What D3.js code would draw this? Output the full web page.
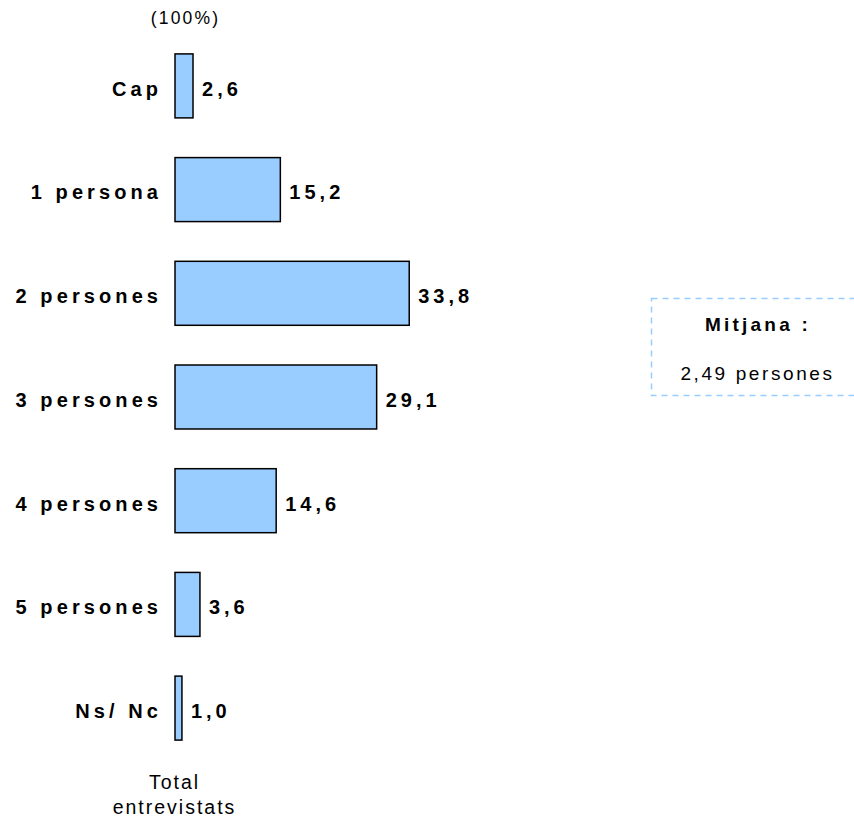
<!DOCTYPE html>
<html><head><meta charset="utf-8">
<script src="https://cdn.jsdelivr.net/npm/d3@7"></script>
<style>body{margin:0;background:#fff}svg{display:block}</style>
</head><body>
<script>
const categories = ["Cap","1 persona","2 persones","3 persones","4 persones","5 persones","Ns/ Nc"];
const values = [2.6,15.2,33.8,29.1,14.6,3.6,1.0];
const valueLabels = ["2,6","15,2","33,8","29,1","14,6","3,6","1,0"];
const headerLabel = "(100%)";
const footerLines = ["Total","entrevistats"];
const boxTitle = "Mitjana :";
const boxValue = "2,49 persones";

const W = 854, H = 818;
const svg = d3.select("body").append("svg").attr("width", W).attr("height", H);
const font = "'Liberation Sans', Arial, Helvetica, sans-serif";

const x = d3.scaleLinear().domain([0,100]).range([175, 868]);
const y = d3.scaleBand().domain(categories).range([34.2, 759.8]).paddingInner(0.383).paddingOuter(0.19);

svg.append("text").attr("x", 185.5).attr("y", 24).attr("text-anchor","middle")
  .attr("font-family", font).attr("font-size", 17.5).attr("letter-spacing", 2.2).text(headerLabel);

const g = svg.append("g");
g.selectAll("rect").data(values).join("rect")
  .attr("x", x(0)).attr("y", (d,i)=>y(categories[i]))
  .attr("width", d=>x(d)-x(0)).attr("height", y.bandwidth())
  .attr("fill","#99ccff").attr("stroke","#000").attr("stroke-width",1.5);

const catLS = 4.1;
g.selectAll("text.cat").data(categories).join("text").attr("class","cat")
  .attr("x", 158 + catLS).attr("y", d=>y(d)+y.bandwidth()/2 + 9.8)
  .attr("text-anchor","end").attr("font-family", font).attr("font-weight","bold")
  .attr("font-size", 20).attr("letter-spacing", catLS).text(d=>d);

g.selectAll("text.val").data(values).join("text").attr("class","val")
  .attr("x", d=>x(d)+9).attr("y", (d,i)=>y(categories[i])+y.bandwidth()/2 + 9.8)
  .attr("font-family", font).attr("font-weight","bold")
  .attr("font-size", 20).attr("letter-spacing", 4).text((d,i)=>valueLabels[i]);

footerLines.forEach((t,i)=>{
  svg.append("text").attr("x", 174.5).attr("y", 788.5 + i*25).attr("text-anchor","middle")
    .attr("font-family", font).attr("font-size", 19.5).attr("letter-spacing", 2).text(t);
});

svg.append("rect").attr("x", 651.5).attr("y", 298.5).attr("width", 240).attr("height", 97)
  .attr("fill","none").attr("stroke","#99ccff").attr("stroke-width",1.5).attr("stroke-dasharray","6,5");
svg.append("text").attr("x", 758).attr("y", 331).attr("text-anchor","middle")
  .attr("font-family", font).attr("font-weight","bold").attr("font-size", 19).attr("letter-spacing", 3.2).text(boxTitle);
svg.append("text").attr("x", 757.5).attr("y", 380).attr("text-anchor","middle")
  .attr("font-family", font).attr("font-size", 19).attr("letter-spacing", 2.6).text(boxValue);
</script>
</body></html>
